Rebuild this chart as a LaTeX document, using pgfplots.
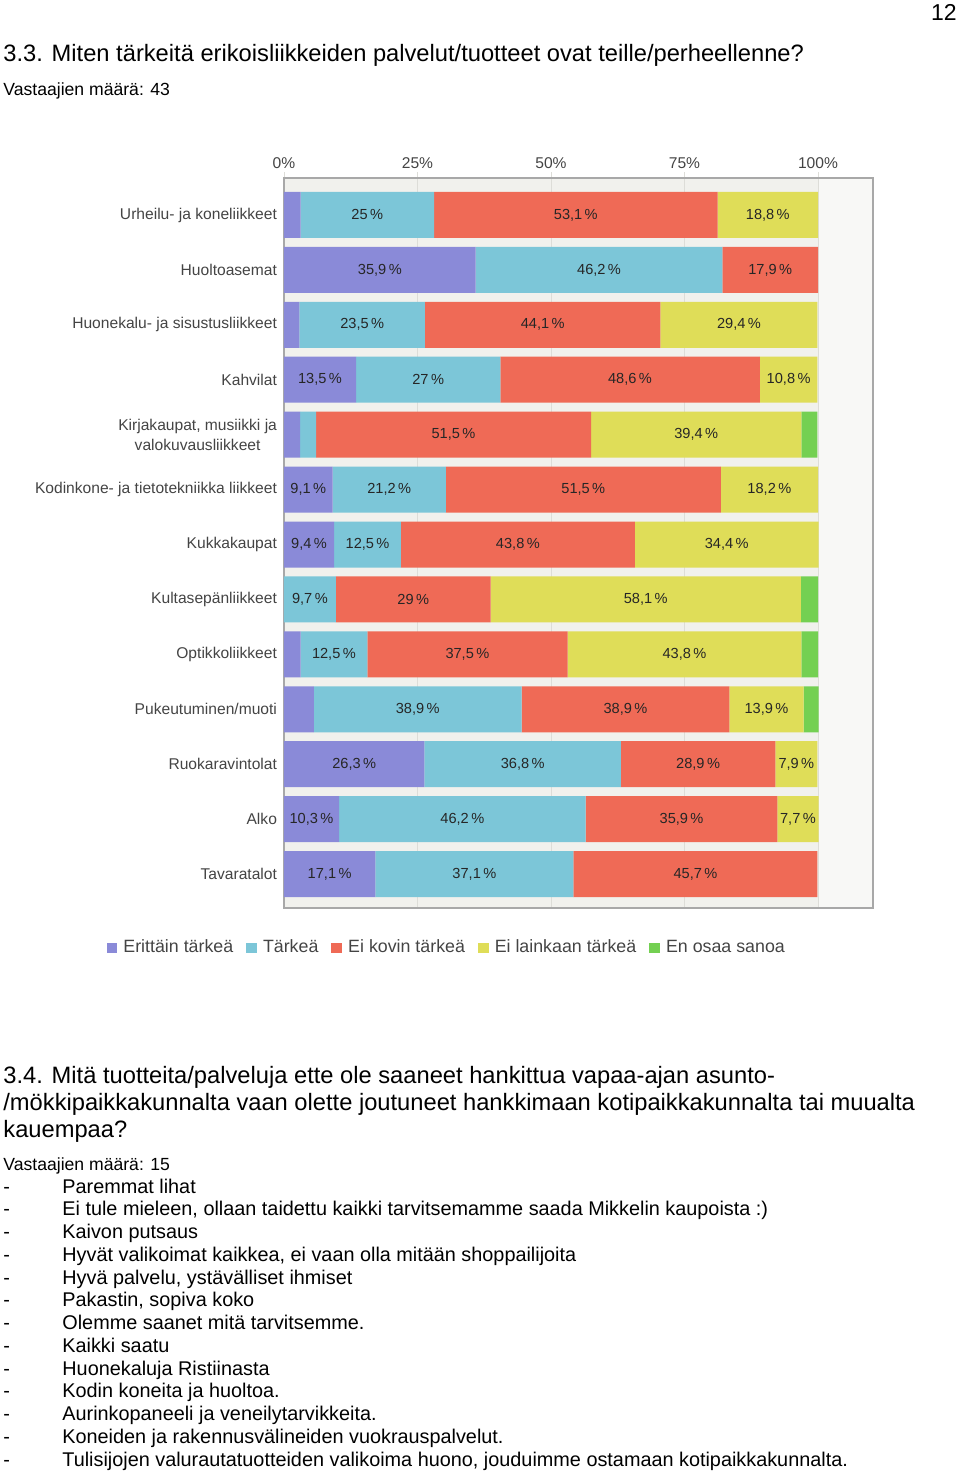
\documentclass[border=0pt]{standalone}
\usepackage{fontspec}
\setmainfont{Liberation Sans}
\usepackage{pgfplots}
\usepackage{pgfplotstable}
\pgfplotsset{compat=1.18}

\definecolor{cP}{HTML}{8A8AD8}
\definecolor{cC}{HTML}{7CC6D8}
\definecolor{cR}{HTML}{EF6A56}
\definecolor{cY}{HTML}{DFDD58}
\definecolor{cG}{HTML}{74D052}
\definecolor{bgA}{HTML}{F1F1ED}
\definecolor{bgB}{HTML}{F8F8F6}
\definecolor{gridc}{HTML}{DDDDD8}
\definecolor{framec}{HTML}{A8A8A8}
\definecolor{labc}{HTML}{444444}

% rows: y=12 top (Urheilu) ... y=0 bottom (Tavaratalot)
\pgfplotstableread{
y v
12 3.1
11 35.9
10 2.9
9 13.5
8 3.0
7 9.1
6 9.4
5 0
4 3.1
3 5.6
2 26.3
1 10.3
0 17.1
}\erittain
\pgfplotstableread{
y v
12 25
11 46.2
10 23.5
9 27
8 3.0
7 21.2
6 12.5
5 9.7
4 12.5
3 38.9
2 36.8
1 46.2
0 37.1
}\tarkea
\pgfplotstableread{
y v
12 53.1
11 17.9
10 44.1
9 48.6
8 51.5
7 51.5
6 43.8
5 29
4 37.5
3 38.9
2 28.9
1 35.9
0 45.7
}\eikovin
\pgfplotstableread{
y v
12 18.8
11 0
10 29.4
9 10.8
8 39.4
7 18.2
6 34.4
5 58.1
4 43.8
3 13.9
2 7.9
1 7.7
0 0
}\eilainkaan
\pgfplotstableread{
y v
12 0
11 0
10 0
9 0
8 3.0
7 0
6 0
5 3.2
4 3.1
3 2.8
2 0
1 0
0 0
}\enosaa

\begin{document}
\begin{tikzpicture}
\begin{scope}[x=0.5pt,y=-0.5pt]
\path[use as bounding box] (0,0) rectangle (960,1474);
% plot-area background
\fill[bgA] (284,178) rectangle (817.5,908);
\fill[bgB] (817.5,178) rectangle (873,908);
\node[anchor=base east,inner sep=0pt,font=\fontsize{11.5}{13}\selectfont] at (957,20) {12};
\node[anchor=base west,inner sep=0pt,font=\fontsize{11.85}{13}\selectfont] at (3,61) {3.3. Miten tärkeitä erikoisliikkeiden palvelut/tuotteet ovat teille/perheellenne?};
\node[anchor=base west,inner sep=0pt,font=\fontsize{8.8}{11}\selectfont] at (3,95) {Vastaajien määrä: 43};
\node[anchor=base west,inner sep=0pt,font=\fontsize{11.85}{13}\selectfont] at (3,1083) {3.4. Mitä tuotteita/palveluja ette ole saaneet hankittua vapaa-ajan asunto-};
\node[anchor=base west,inner sep=0pt,font=\fontsize{11.85}{13}\selectfont] at (3,1110) {/mökkipaikkakunnalta vaan olette joutuneet hankkimaan kotipaikkakunnalta tai muualta};
\node[anchor=base west,inner sep=0pt,font=\fontsize{11.85}{13}\selectfont] at (3,1137) {kauempaa?};
\node[anchor=base west,inner sep=0pt,font=\fontsize{8.8}{11}\selectfont] at (3,1170) {Vastaajien määrä: 15};
\foreach \t [count=\i from 0] in {
 Paremmat lihat,
 {Ei tule mieleen, ollaan taidettu kaikki tarvitsemamme saada Mikkelin kaupoista :)},
 Kaivon putsaus,
 {Hyvät valikoimat kaikkea, ei vaan olla mitään shoppailijoita},
 {Hyvä palvelu, ystävälliset ihmiset},
 {Pakastin, sopiva koko},
 Olemme saanet mitä tarvitsemme.,
 Kaikki saatu,
 Huonekaluja Ristiinasta,
 Kodin koneita ja huoltoa.,
 Aurinkopaneeli ja veneilytarvikkeita.,
 Koneiden ja rakennusvälineiden vuokrauspalvelut.,
 {Tulisijojen valurautatuotteiden valikoima huono, jouduimme ostamaan kotipaikkakunnalta.}}{
 \node[anchor=base west,inner sep=0pt,font=\fontsize{9.92}{12}\selectfont] at (3,1193+22.75*\i) {-};
 \node[anchor=base west,inner sep=0pt,font=\fontsize{9.92}{12}\selectfont] at (62,1193+22.75*\i) {\t};
}
\end{scope}

\begin{axis}[
  at={(142pt,-454pt)}, anchor=south west,
  scale only axis, width=294.5pt, height=365pt,
  xbar stacked, bar width=23pt,
  xmin=0, xmax=110.3, ymin=-0.618, ymax=12.673,
  ytick={0,...,12},
  yticklabels={Tavaratalot, Alko, Ruokaravintolat, Pukeutuminen/muoti, Optikkoliikkeet, Kultasepänliikkeet, Kukkakaupat, Kodinkone- ja tietotekniikka liikkeet, {Kirjakaupat, musiikki ja\\valokuvausliikkeet}, Kahvilat, Huonekalu- ja sisustusliikkeet, Huoltoasemat, Urheilu- ja koneliikkeet},
  yticklabel style={font=\fontsize{7.8}{10}\selectfont, text=labc, align=center, xshift=3pt},
  ytick style={draw=none},
  xtick={0,25,50,75,100},
  xticklabels={0\%,25\%,50\%,75\%,100\%},
  xtick pos=right, xticklabel pos=right,
  tick align=outside, major tick length=3pt,
  xtick style={draw=gridc},
  xticklabel style={font=\fontsize{7.8}{9}\selectfont, text=labc, yshift=-2pt},
  xmajorgrids, grid style={draw=gridc, line width=0.5pt},
  axis line style={draw=framec, line width=0.6pt},
  visualization depends on={\thisrow{v} \as \segval},
  nodes near coords={\ifdim\segval pt<7pt\else\pgfmathprintnumber[assume math mode=true,use comma,fixed,precision=1]{\segval}\,\%\fi},
  every node near coord/.append style={anchor=center, font=\fontsize{7.3}{8}\selectfont, text=black!85, inner sep=0pt},
  legend style={at={(0.278,-0.0548)}, anchor=center, draw=none, fill=none, legend columns=-1,
    font=\fontsize{8.9}{10}\selectfont, text=labc,
    /tikz/every odd column/.append style={column sep=1pt},
    /tikz/every even column/.append style={column sep=4.5pt}},
  legend image code/.code={\fill[#1] (0pt,-2.7pt) rectangle (5.4pt,2.7pt);},
]
\addplot[draw=none, fill=cP] table[x=v,y=y] {\erittain};
\addplot[draw=none, fill=cC] table[x=v,y=y] {\tarkea};
\addplot[draw=none, fill=cR] table[x=v,y=y] {\eikovin};
\addplot[draw=none, fill=cY] table[x=v,y=y] {\eilainkaan};
\addplot[draw=none, fill=cG] table[x=v,y=y] {\enosaa};
\legend{Erittäin tärkeä, Tärkeä, Ei kovin tärkeä, Ei lainkaan tärkeä, En osaa sanoa}
\end{axis}
\end{tikzpicture}
\end{document}
